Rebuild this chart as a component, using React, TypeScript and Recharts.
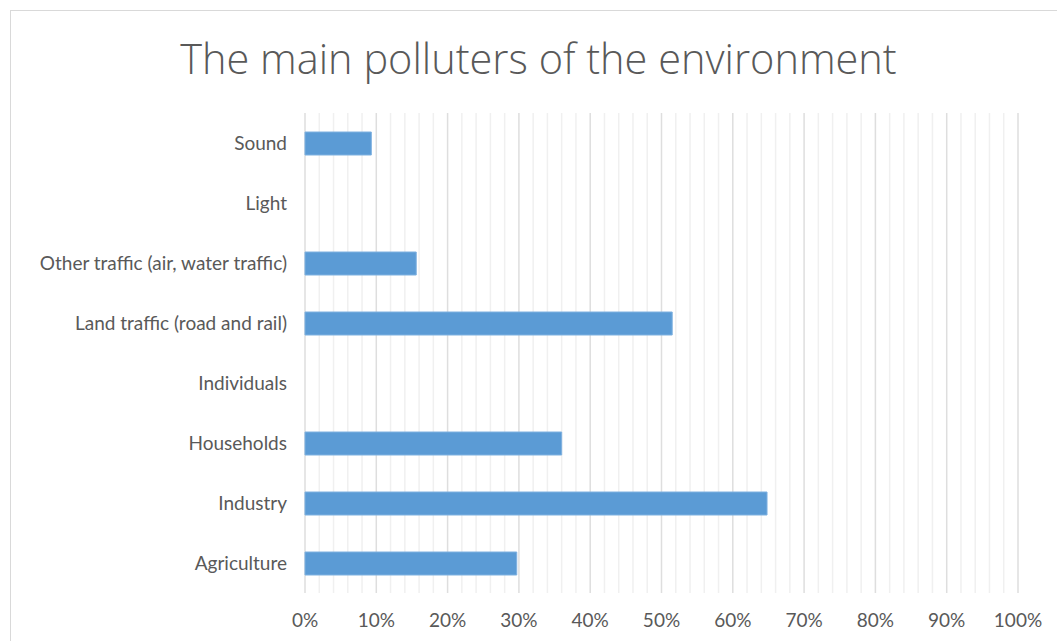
import React from "react";
import { BarChart, Bar, XAxis, YAxis, CartesianGrid } from "recharts";

const CATEGORIES = [
  "Sound",
  "Light",
  "Other traffic (air, water traffic)",
  "Land traffic (road and rail)",
  "Individuals",
  "Households",
  "Industry",
  "Agriculture",
];
const SHARES = [0.093, 0, 0.156, 0.515, 0, 0.36, 0.648, 0.297];

const MAJOR_TICKS = [0, 0.1, 0.2, 0.3, 0.4, 0.5, 0.6, 0.7, 0.8, 0.9, 1];
const MINOR_TICKS = [
  0.02, 0.04, 0.06, 0.08, 0.12, 0.14, 0.16, 0.18, 0.22, 0.24, 0.26, 0.28,
  0.32, 0.34, 0.36, 0.38, 0.42, 0.44, 0.46, 0.48, 0.52, 0.54, 0.56, 0.58,
  0.62, 0.64, 0.66, 0.68, 0.72, 0.74, 0.76, 0.78, 0.82, 0.84, 0.86, 0.88,
  0.92, 0.94, 0.96, 0.98,
];

const data = CATEGORIES.map((name, i) => ({ name, value: SHARES[i] }));

const pct = (v: number) => `${Math.round(v * 100)}%`;

// minor grid: position the 2% steps inside the plot area (domain is 0..1)
const minorLines = ({ offset }: any) =>
  MINOR_TICKS.map((t) => offset.left + t * offset.width);

export default function App() {
  return (
    <div
      style={{
        position: "fixed",
        left: 0,
        top: 0,
        width: 1057,
        height: 641,
        background: "#fff",
        overflow: "hidden",
        fontFamily: "'Open Sans', sans-serif",
      }}
    >
      <div
        style={{
          position: "absolute",
          left: 10,
          top: 10,
          width: 1080,
          height: 700,
          border: "1px solid #d9d9d9",
          boxSizing: "border-box",
        }}
      />
      <div
        style={{
          position: "absolute",
          left: 0,
          top: 28,
          width: 1077,
          textAlign: "center",
          fontSize: 41.5,
          fontWeight: 300,
          color: "#595959",
          lineHeight: "60px",
        }}
      >
        The main polluters of the environment
      </div>
      <div style={{ position: "absolute", left: 0, top: 0 }}>
        <BarChart
          layout="vertical"
          width={1057}
          height={641}
          data={data}
          margin={{ top: 113, right: 39, bottom: 18, left: 0 }}
          barSize={23}
        >
          <CartesianGrid
            horizontal={false}
            stroke="#f0f0f0"
            strokeWidth={1.5}
            verticalCoordinatesGenerator={minorLines}
          />
          <CartesianGrid horizontal={false} stroke="#dedede" strokeWidth={1.5} />
          <XAxis
            type="number"
            domain={[0, 1]}
            ticks={MAJOR_TICKS}
            tickFormatter={pct}
            axisLine={false}
            tickLine={false}
            tickMargin={15}
            tick={{ fill: "#595959", fontSize: 19, fontFamily: "Lato" }}
          />
          <YAxis
            type="category"
            dataKey="name"
            width={305}
            axisLine={false}
            tickLine={false}
            tickSize={0}
            tickMargin={18}
            tick={{ fill: "#595959", fontSize: 19, fontFamily: "Lato" }}
          />
          <Bar
            dataKey="value"
            fill="#5b9bd5"
            stroke="#7fb1e0"
            strokeWidth={1}
            isAnimationActive={false}
          />
        </BarChart>
      </div>
    </div>
  );
}
